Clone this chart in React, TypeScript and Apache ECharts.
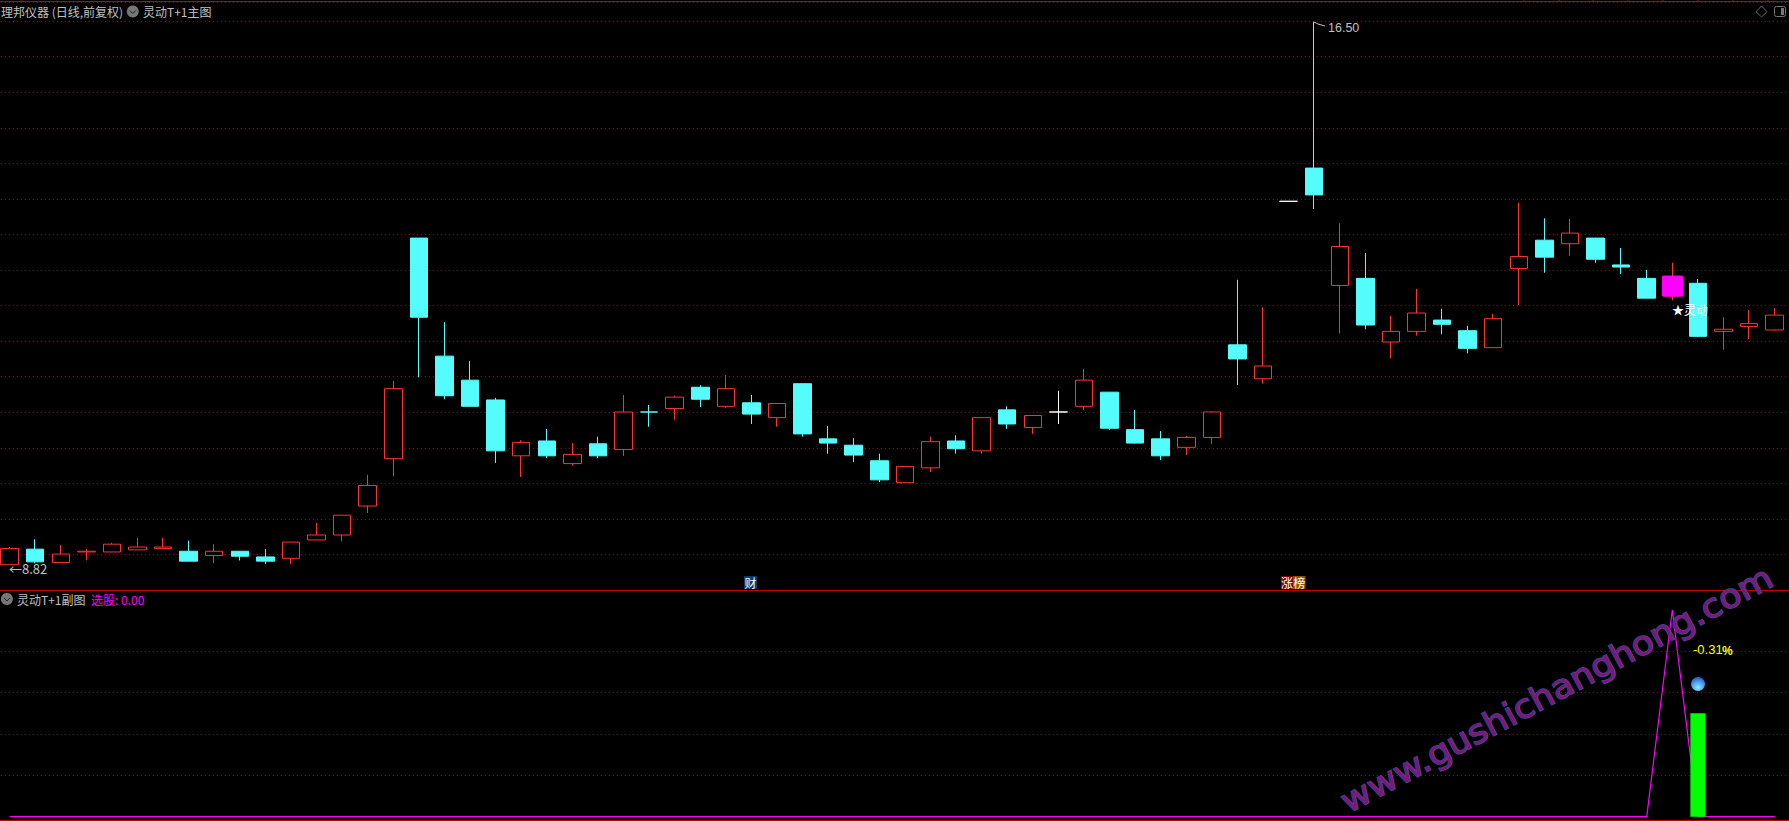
import React, { useEffect, useRef } from "react";
import * as echarts from "echarts";

const categories = Array.from({ length: 70 }, (_, i) => String(i + 1));

const opens = [8.82,9.04,8.85,9.00,9.00,9.03,9.05,9.01,8.95,9.01,8.93,8.91,9.17,9.24,9.65,10.32,13.44,11.77,11.43,11.15,10.36,10.57,10.25,10.53,10.45,10.98,11.03,11.33,11.06,11.11,10.90,11.38,10.60,10.51,10.29,9.98,10.19,10.57,10.43,11.01,10.76,10.98,11.06,11.26,10.73,10.60,10.48,10.62,11.93,11.45,13.96,14.43,12.77,12.87,11.97,12.12,12.28,12.13,11.89,13.01,13.41,13.36,13.44,13.06,12.87,12.62,12.80,12.12,12.19,12.14];
const closes = [9.05,8.86,8.97,9.01,9.11,9.07,9.07,8.87,9.01,8.94,8.87,9.14,9.24,9.52,9.94,11.31,12.32,11.21,11.06,10.43,10.55,10.36,10.38,10.36,10.98,10.98,11.19,11.16,11.31,10.95,11.10,10.67,10.54,10.37,10.02,10.21,10.56,10.46,10.90,10.81,10.93,10.98,11.43,10.75,10.54,10.36,10.62,10.98,11.73,11.63,13.96,14.05,13.32,12.21,12.12,12.38,12.22,11.88,12.30,13.18,13.17,13.51,13.14,13.03,12.59,12.90,12.05,12.15,12.23,12.35];
const lows = [8.82,8.84,8.85,8.88,9.00,9.03,9.05,8.87,8.84,8.88,8.83,8.83,9.17,9.15,9.55,10.07,11.47,11.16,11.06,10.26,10.06,10.33,10.22,10.33,10.36,10.77,10.87,11.05,11.04,10.81,10.77,10.63,10.39,10.27,9.99,9.98,10.13,10.39,10.39,10.74,10.67,10.81,11.01,10.73,10.53,10.30,10.37,10.53,11.36,11.38,13.96,13.85,12.09,12.15,11.74,12.06,12.08,11.81,11.89,12.49,12.95,13.19,13.09,12.93,12.59,12.56,12.04,11.86,12.01,12.13];
const highs = [9.07,9.18,9.10,9.04,9.13,9.20,9.20,9.16,9.11,9.01,9.04,9.14,9.41,9.52,10.09,11.42,13.44,12.25,11.70,11.18,10.58,10.74,10.54,10.63,11.22,11.08,11.21,11.36,11.50,11.22,11.10,11.38,10.78,10.61,10.39,10.21,10.63,10.65,10.90,11.06,10.93,11.28,11.59,11.26,11.01,10.71,10.64,10.99,12.85,12.46,13.96,16.50,13.65,13.23,12.34,12.72,12.44,12.20,12.37,13.94,13.72,13.71,13.44,13.30,12.99,13.09,12.86,12.32,12.42,12.45];

const cyanDojiIndexes = [25];
const whiteDojiIndexes = [41, 50];
const selectedIndex = 65;

const signalLine = [0,0,0,0,0,0,0,0,0,0,0,0,0,0,0,0,0,0,0,0,0,0,0,0,0,0,0,0,0,0,0,0,0,0,0,0,0,0,0,0,0,0,0,0,0,0,0,0,0,0,0,0,0,0,0,0,0,0,0,0,0,0,0,0,0,1,0,0,0,0];
const greenBar = [null,null,null,null,null,null,null,null,null,null,null,null,null,null,null,null,null,null,null,null,null,null,null,null,null,null,null,null,null,null,null,null,null,null,null,null,null,null,null,null,null,null,null,null,null,null,null,null,null,null,null,null,null,null,null,null,null,null,null,null,null,null,null,null,null,null,0.5,null,null,null];
const lowerLevels = [0.2, 0.4, 0.6, 0.8];

const stockTitle = "理邦仪器 (日线,前复权)";
const mainTitle = "灵动T+1主图";
const subTitle = "灵动T+1副图";
const pickLabel = "选股: 0.00";
const watermark = "www.gushichanghong.com";

const RED = "#ff3232";
const CYAN = "#54fcfc";
const LINE_RED = "#c00000";
const DOT_RED = "#cc0000";
const GRAY = "#c0c0c0";
const CJK = '"Noto Sans CJK SC", sans-serif';
const topTicks = [22, 1524, 1559, 1593, 1628, 1663, 1698, 1733, 1768];

// The chart's div sits 4px left of the page so that the first candle's band can start off-page.
const PAGE_SHIFT = 4;

function label(text: string, x: number, y: number, fill: string, extra: any = {}) {
  return {
    type: "text",
    x,
    y,
    z: 20,
    silent: true,
    style: { text, fill, font: `12px ${CJK}`, verticalAlign: "middle", align: "left", ...extra },
  };
}

function chevronIcon(cx: number, cy: number) {
  return [
    { type: "circle", z: 20, silent: true, shape: { cx, cy, r: 6 }, style: { fill: "#777777" } },
    {
      type: "polyline",
      z: 21,
      silent: true,
      shape: { points: [[cx - 3, cy - 1], [cx, cy + 2], [cx + 3, cy - 1]] },
      style: { stroke: "#222222", fill: "none", lineWidth: 1 },
    },
  ];
}

function hline(y: number, stroke = LINE_RED) {
  return {
    type: "line",
    z: 15,
    silent: true,
    shape: { x1: 0, y1: y, x2: 1789, y2: y },
    style: { stroke, lineWidth: 1 },
  };
}

function tag(text: string, x: number, w: number, fill: string) {
  return [
    { type: "rect", z: 20, silent: true, shape: { x, y: 576, width: w, height: 13 }, style: { fill } },
    {
      type: "text",
      z: 21,
      silent: true,
      x: x + w / 2,
      y: 582.5,
      style: { text, fill: "#ffffff", font: `12px ${CJK}`, align: "center", verticalAlign: "middle" },
    },
  ];
}

export default function App() {
  const ref = useRef<HTMLDivElement>(null);
  useEffect(() => {
    document.body.style.margin = "0";
    document.body.style.background = "#000";
    document.body.style.overflow = "hidden";
    const chart = echarts.init(ref.current!, undefined, { renderer: "svg" });

    const candleData = categories.map((_, i) => {
      const value = [opens[i], closes[i], lows[i], highs[i]];
      let c: string | null = null;
      if (whiteDojiIndexes.includes(i)) c = "#ffffff";
      if (cyanDojiIndexes.includes(i)) c = CYAN;
      return c
        ? { value, itemStyle: { color: c, color0: c, borderColor: c, borderColor0: c } }
        : value;
    });
    const selectedData = categories.map((_, i) =>
      i === selectedIndex
        ? [opens[i], closes[i], opens[i], closes[i]]
        : ["-", "-", "-", "-"]
    );

    chart.setOption({
      animation: false,
      backgroundColor: "#000000",
      grid: [
        { left: 0.81, width: 1790.6, top: 2, height: 588, containLabel: false },
        { left: 0.81, width: 1790.6, top: 590, height: 226.7, containLabel: false },
      ],
      xAxis: [
        { type: "category", gridIndex: 0, data: categories, show: false, boundaryGap: true },
        { type: "category", gridIndex: 1, data: categories, show: false, boundaryGap: true },
      ],
      yAxis: [
        {
          type: "value",
          gridIndex: 0,
          min: 8.462,
          max: 16.779,
          axisLine: { show: false },
          axisTick: { show: false },
          axisLabel: { show: false },
          splitLine: { show: false },
        },
        {
          type: "value",
          gridIndex: 0,
          position: "right",
          min: 0,
          max: 16.54,
          interval: 1,
          axisLine: { show: false },
          axisTick: { show: false },
          axisLabel: { show: false },
          splitLine: { show: true, lineStyle: { color: DOT_RED, width: 1, type: [1, 3] } },
        },
        {
          type: "value",
          gridIndex: 1,
          min: 0,
          max: 1.0968,
          axisLine: { show: false },
          axisTick: { show: false },
          axisLabel: { show: false },
          splitLine: { show: false },
        },
      ],
      series: [
        {
          type: "candlestick",
          xAxisIndex: 0,
          yAxisIndex: 0,
          barWidth: 18,
          z: 5,
          data: candleData,
          itemStyle: {
            color: "#000000",
            color0: CYAN,
            borderColor: RED,
            borderColor0: CYAN,
            borderWidth: 1,
          },
        },
        {
          type: "candlestick",
          xAxisIndex: 0,
          yAxisIndex: 0,
          barWidth: 20,
          z: 6,
          data: selectedData,
          itemStyle: {
            color: "#ff00ff",
            color0: "#ff00ff",
            borderColor: "#ff00ff",
            borderColor0: "#ff00ff",
            borderWidth: 1,
          },
        },
        {
          type: "line",
          xAxisIndex: 1,
          yAxisIndex: 2,
          data: signalLine,
          symbol: "none",
          clip: false,
          z: 4,
          lineStyle: { color: "#ff00ff", width: 1.2 },
          markLine: {
            silent: true,
            symbol: "none",
            label: { show: false },
            lineStyle: { color: DOT_RED, width: 1, type: [1, 3] },
            data: lowerLevels.map((v) => ({ yAxis: v })),
          },
        },
        {
          type: "bar",
          xAxisIndex: 1,
          yAxisIndex: 2,
          data: greenBar,
          barWidth: 15,
          z: 6,
          itemStyle: { color: "#00ff00" },
        },
      ],
      graphic: {
        elements: [
          {
            type: "group",
            x: PAGE_SHIFT,
            y: 0,
            children: [
              hline(1.5),
              hline(590.5),
              hline(820.5),
              ...topTicks.map((x) => ({
                type: "line",
                z: 15,
                silent: true,
                shape: { x1: x, y1: 0, x2: x, y2: 2 },
                style: { stroke: LINE_RED, lineWidth: 1 },
              })),
              label(stockTitle, 1, 11.5, GRAY),
              ...chevronIcon(132.8, 11.5),
              label(mainTitle, 143, 11.5, GRAY),
              ...chevronIcon(6.9, 599),
              label(subTitle, 17, 599, GRAY),
              label(pickLabel, 91, 599, "#ff00ff"),
              {
                type: "polygon",
                z: 20,
                silent: true,
                shape: { points: [[1761.5, 6], [1767, 11.7], [1761.5, 17], [1756, 11.7]] },
                style: { stroke: "#666666", fill: "none", lineWidth: 1 },
              },
              {
                type: "rect",
                z: 20,
                silent: true,
                shape: { x: 1774.5, y: 6.5, width: 11, height: 10, r: 2 },
                style: { stroke: "#777777", fill: "none", lineWidth: 1 },
              },
              {
                type: "rect",
                z: 20,
                silent: true,
                shape: { x: 1781, y: 8, width: 3, height: 7 },
                style: { fill: "#777777" },
              },
              {
                type: "polyline",
                z: 20,
                silent: true,
                shape: { points: [[1314, 22], [1318, 24], [1325, 26]] },
                style: { stroke: GRAY, fill: "none", lineWidth: 1 },
              },
              label("16.50", 1328, 27.5, GRAY, { font: `12.5px "Liberation Sans", sans-serif` }),
              label("←8.82", 9, 568, GRAY, { font: `13px ${CJK}` }),
              label("★灵动", 1672, 309, "#ffffff"),
              ...tag("财", 744, 13, "#0a3a70"),
              ...tag("涨", 1281, 12, "#800000"),
              ...tag("榜", 1293, 12.5, "#8a5200"),
              label("-0.31", 1693, 649, "#ffff00", { font: `13px "Liberation Sans", sans-serif` }),
              label("%", 1722, 651, "#ffff00", { font: `bold 12px "Liberation Sans", sans-serif` }),
              {
                type: "circle",
                z: 20,
                silent: true,
                shape: { cx: 1698, cy: 684, r: 7 },
                style: {
                  fill: new echarts.graphic.RadialGradient(0.5, 0.75, 0.7, [
                    { offset: 0, color: "#8fe8ff" },
                    { offset: 0.6, color: "#4aa0f0" },
                    { offset: 1, color: "#2a60c0" },
                  ]),
                },
              },
              {
                type: "text",
                z: 30,
                silent: true,
                x: 1351,
                y: 818,
                rotation: (28.2 * Math.PI) / 180,
                scaleX: 1.095,
                style: {
                  text: watermark,
                  font: `33px "DejaVu Sans", sans-serif`,
                  fill: "#7a1a78",
                  stroke: "#44449c",
                  lineWidth: 1.5,
                  align: "left",
                  verticalAlign: "bottom",
                },
              },
            ],
          },
        ],
      },
    });
    return () => chart.dispose();
  }, []);
  return (
    <div
      ref={ref}
      style={{ position: "fixed", left: -PAGE_SHIFT, top: 0, width: 1789 + PAGE_SHIFT, height: 821, background: "#000" }}
    />
  );
}
